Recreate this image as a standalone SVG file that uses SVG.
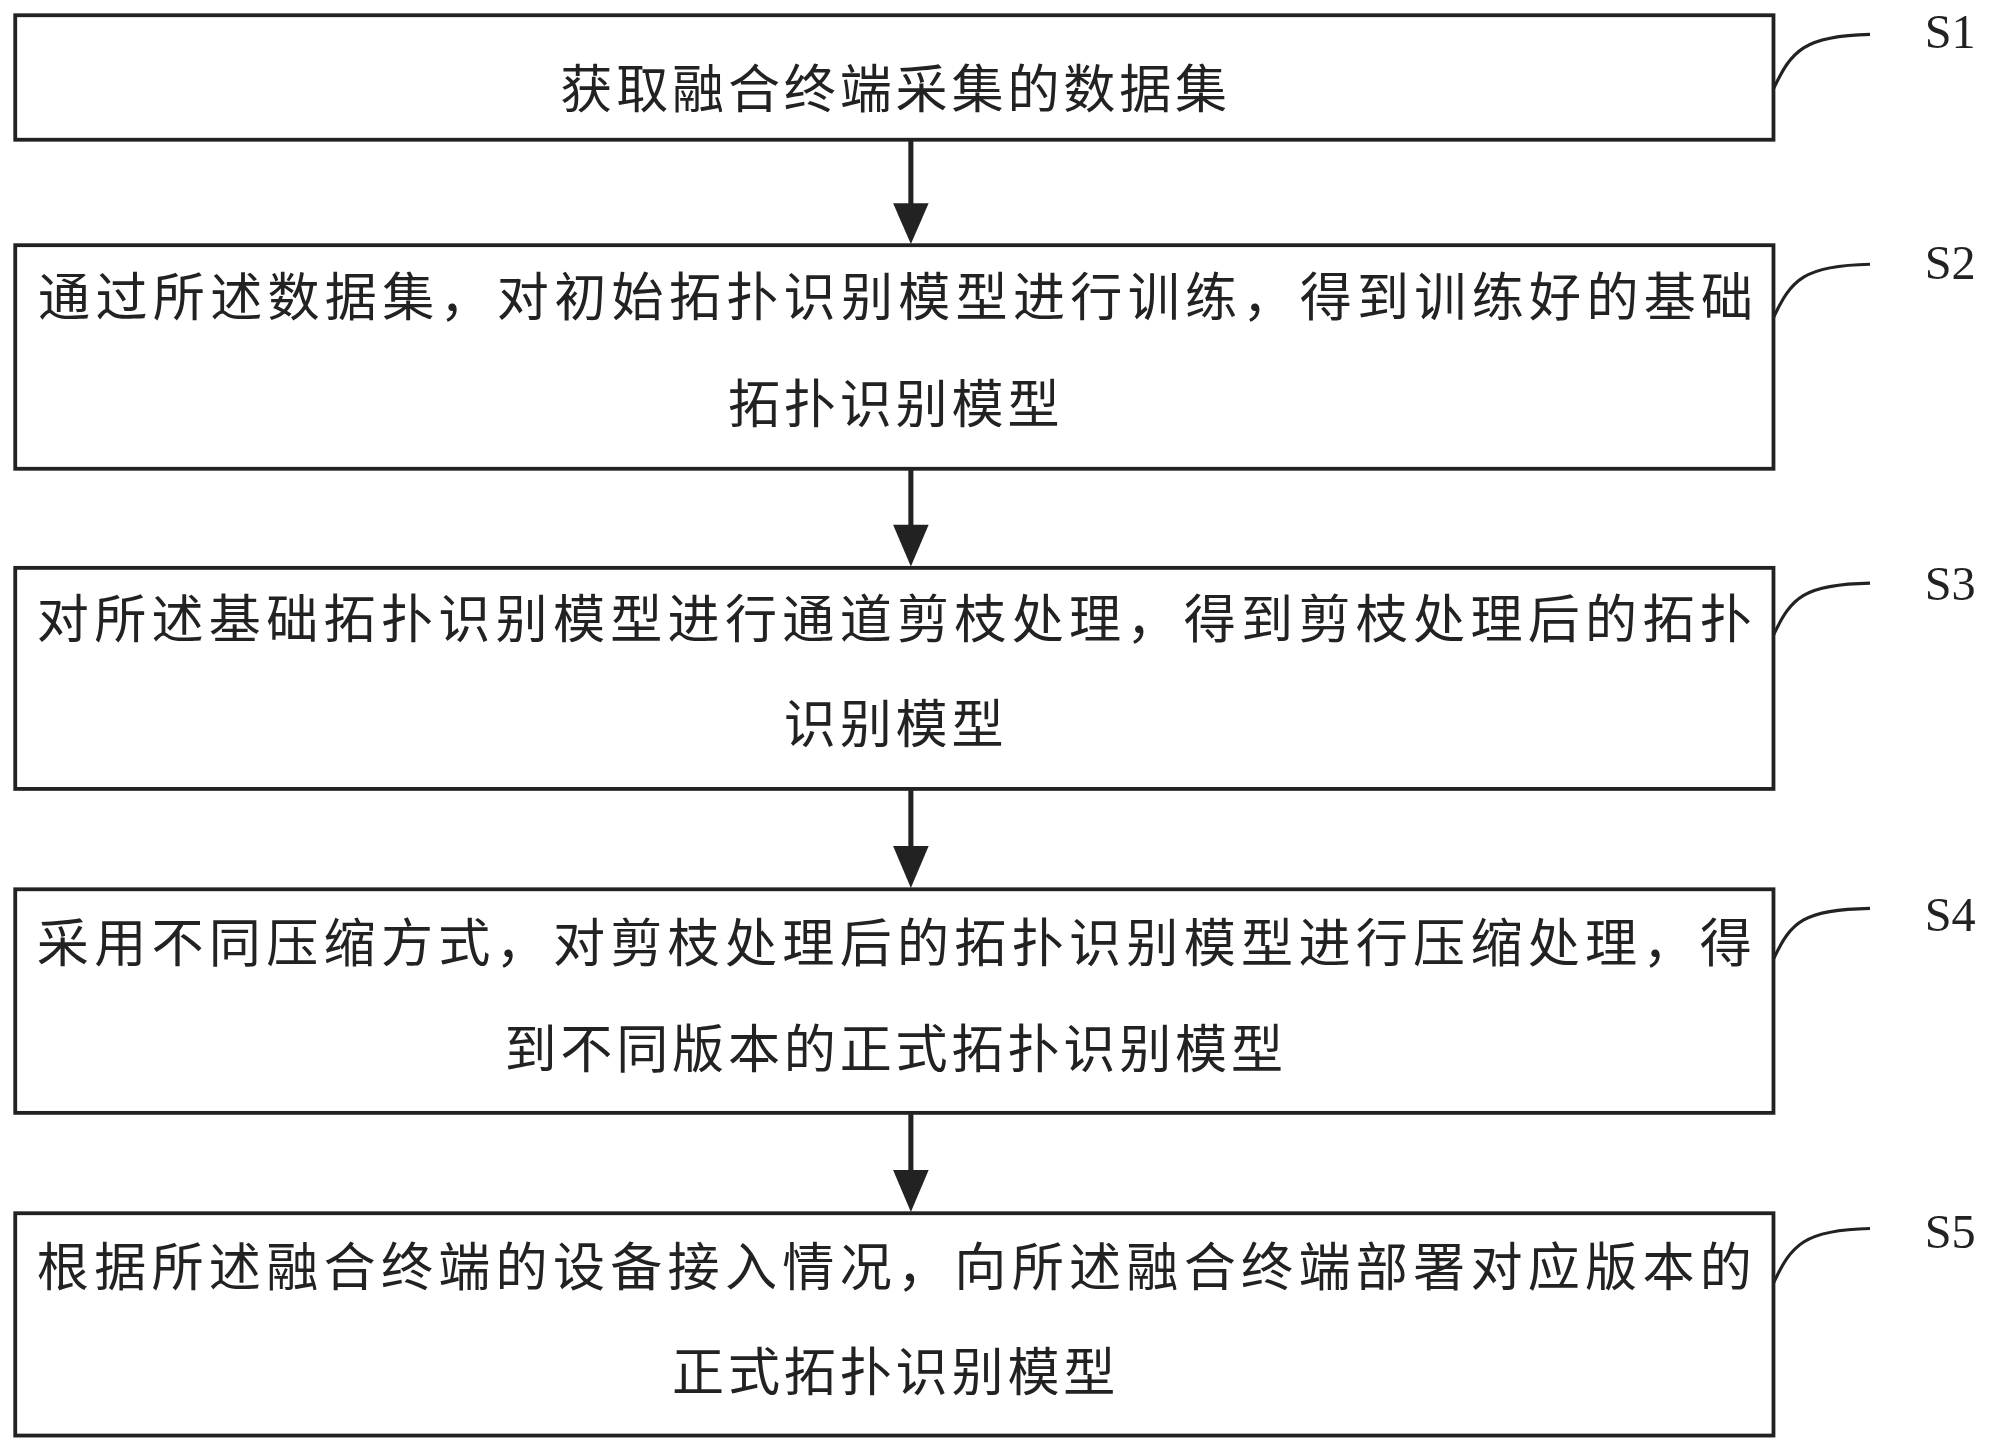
<svg xmlns="http://www.w3.org/2000/svg" width="1992" height="1450" viewBox="0 0 1992 1450">
<defs>
<style>
.b{fill:#fff;stroke:#222;stroke-width:3}
.t{font-family:"Noto Sans CJK SC","Noto Sans",sans-serif;font-size:41px;fill:#222;text-anchor:middle}
.s{font-family:"Liberation Serif",serif;font-size:38px;fill:#222}
.c{fill:none;stroke:#222;stroke-width:2.5}
.a{stroke:#222;stroke-width:4}
</style>
</defs>
<rect width="1992" height="1450" fill="#fff"/>
<g transform="scale(1.2704)">
<g id="connectors">
<line class="a" x1="717" y1="111" x2="717" y2="162"/>
<path d="M703,160L731,160L717,192z" fill="#222"/>
<line class="a" x1="717" y1="370" x2="717" y2="415"/>
<path d="M703,413L731,413L717,446z" fill="#222"/>
<line class="a" x1="717" y1="622" x2="717" y2="668"/>
<path d="M703,666L731,666L717,699z" fill="#222"/>
<line class="a" x1="717" y1="877" x2="717" y2="923"/>
<path d="M703,921L731,921L717,954z" fill="#222"/>
</g>
<g id="n1"><rect class="b" x="12" y="12" width="1384" height="98"/>
<text class="t" x="705" y="85" letter-spacing="3">获取融合终端采集的数据集</text>
<path class="c" d="M1396,70C1410,40 1420,28 1472,27"/><text class="s" x="1515" y="38">S1</text></g>
<g id="n2"><rect class="b" x="12" y="193" width="1384" height="176"/>
<text class="t" x="705" y="249" textLength="1350" lengthAdjust="spacing">通过所述数据集，对初始拓扑识别模型进行训练，得到训练好的基础</text>
<text class="t" x="705" y="333" letter-spacing="3">拓扑识别模型</text>
<path class="c" d="M1396,250C1410,220 1420,209 1472,208"/><text class="s" x="1515" y="220">S2</text></g>
<g id="n3"><rect class="b" x="12" y="447" width="1384" height="174"/>
<text class="t" x="704" y="502" textLength="1350" lengthAdjust="spacing">对所述基础拓扑识别模型进行通道剪枝处理，得到剪枝处理后的拓扑</text>
<text class="t" x="705" y="585" letter-spacing="3">识别模型</text>
<path class="c" d="M1396,500C1410,470 1420,460 1472,459"/><text class="s" x="1515" y="472">S3</text></g>
<g id="n4"><rect class="b" x="12" y="700" width="1384" height="176"/>
<text class="t" x="704" y="757" textLength="1350" lengthAdjust="spacing">采用不同压缩方式，对剪枝处理后的拓扑识别模型进行压缩处理，得</text>
<text class="t" x="705" y="841" letter-spacing="3">到不同版本的正式拓扑识别模型</text>
<path class="c" d="M1396,755C1410,725 1420,716 1472,715"/><text class="s" x="1515" y="733">S4</text></g>
<g id="n5"><rect class="b" x="12" y="955" width="1384" height="175"/>
<text class="t" x="704" y="1012" textLength="1350" lengthAdjust="spacing">根据所述融合终端的设备接入情况，向所述融合终端部署对应版本的</text>
<text class="t" x="705" y="1095" letter-spacing="3">正式拓扑识别模型</text>
<path class="c" d="M1396,1010C1410,980 1420,968 1472,967"/><text class="s" x="1515" y="982">S5</text></g>
</g>
</svg>
